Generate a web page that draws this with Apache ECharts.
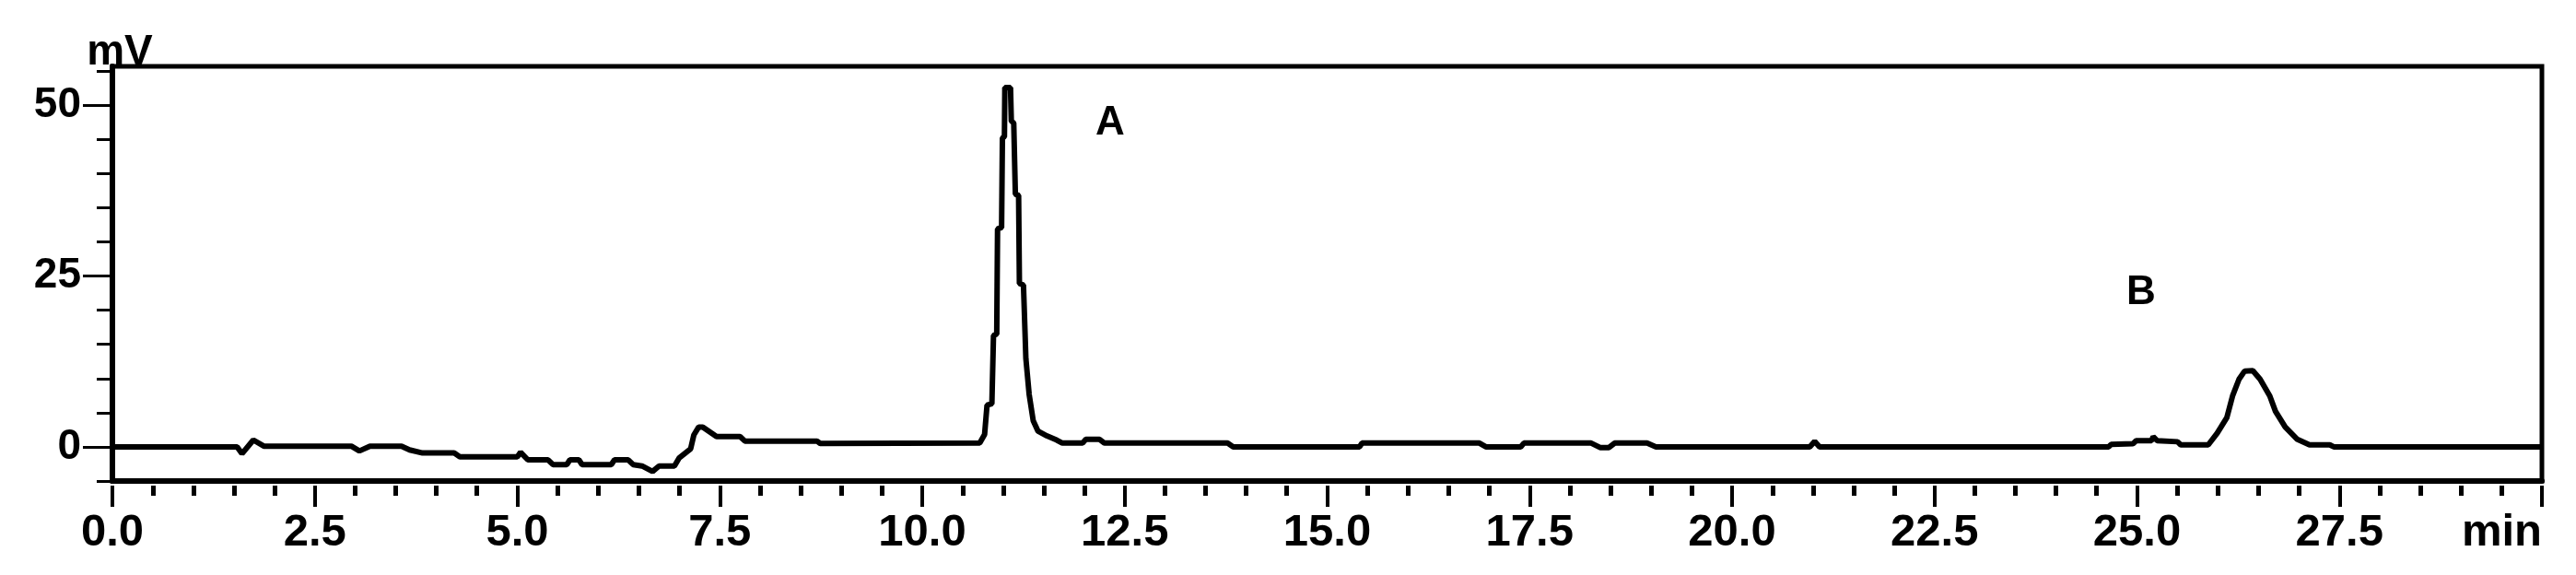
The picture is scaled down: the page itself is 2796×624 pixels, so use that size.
<!DOCTYPE html>
<html>
<head>
<meta charset="utf-8">
<script src="https://cdn.jsdelivr.net/npm/echarts@6/dist/echarts.min.js"></script>
<style>
  html, body { margin: 0; padding: 0; background: #fff; }
  #main { width: 2796px; height: 624px; }
</style>
</head>
<body>
<div id="main"></div>
<script>
// retention time (min) and detector signal (mV)
let time = [0, 1.54, 1.60, 1.74, 1.87, 2.95, 3.05, 3.18, 3.57, 3.67, 3.83, 4.22, 4.29, 5.00, 5.04, 5.13, 5.38, 5.44, 5.61, 5.65,
  5.76, 5.80, 6.16, 6.20, 6.37, 6.43, 6.54, 6.67, 6.75, 6.94, 7.00, 7.14, 7.18, 7.24, 7.29, 7.46, 7.75, 7.81, 8.70, 8.74,
  10.71, 10.77, 10.80, 10.86, 10.88, 10.92, 10.93, 10.98, 10.99, 11.015, 11.02, 11.09, 11.10, 11.13, 11.15, 11.19, 11.20, 11.25, 11.28, 11.32,
  11.37, 11.43, 11.54, 11.66, 11.73, 11.98, 12.02, 12.19, 12.25, 13.77, 13.84, 15.40, 15.43, 16.88, 16.96, 17.39, 17.43, 18.26, 18.37, 18.48,
  18.55, 18.95, 19.06, 20.96, 21.02, 21.08, 24.65, 24.68, 24.95, 24.99, 25.18, 25.20, 25.25, 25.50, 25.54, 25.88, 25.99, 26.11, 26.18, 26.26,
  26.33, 26.43, 26.52, 26.64, 26.71, 26.83, 26.98, 27.13, 27.38, 27.43, 30]
let signal = [0, 0, -1.0, 1.0, 0.1, 0.1, -0.6, 0.1, 0.1, -0.45, -0.9, -0.9, -1.45, -1.45, -0.8, -1.9, -1.9, -2.6, -2.6, -1.9,
  -1.9, -2.6, -2.6, -1.9, -1.9, -2.6, -2.8, -3.6, -2.8, -2.8, -1.6, -0.3, 1.75, 2.9, 2.9, 1.5, 1.5, 0.85, 0.85, 0.5,
  0.55, 1.8, 6.1, 6.3, 16.3, 16.5, 31.9, 32.1, 45.2, 45.4, 52.6, 52.6, 47.7, 47.4, 37.0, 36.8, 23.9, 23.7, 12.9, 7.7,
  3.85, 2.3, 1.6, 1.0, 0.55, 0.55, 1.1, 1.1, 0.55, 0.55, 0, 0, 0.55, 0.55, 0, 0, 0.55, 0.55, -0.1, -0.1,
  0.55, 0.55, 0, 0, 0.8, 0, 0, 0.35, 0.45, 0.9, 0.9, 1.5, 0.9, 0.75, 0.3, 0.3, 2.0, 4.3, 7.45, 9.9,
  11.1, 11.15, 9.9, 7.45, 5.2, 2.9, 1.1, 0.3, 0.3, 0, 0]

// peak names and where they are written
let peakNames = ["A", "B"]
let peakX = [12.32, 25.05]
let peakY = [47.4, 22.5]

// ticks
let xLabelTicks = [0, 2.5, 5, 7.5, 10, 12.5, 15, 17.5, 20, 22.5, 25, 27.5, 30]
let xMinorTicks = [0.5, 1, 1.5, 2, 3, 3.5, 4, 4.5, 5.5, 6, 6.5, 7, 8, 8.5, 9, 9.5, 10.5, 11, 11.5, 12, 13, 13.5, 14, 14.5,
  15.5, 16, 16.5, 17, 18, 18.5, 19, 19.5, 20.5, 21, 21.5, 22, 23, 23.5, 24, 24.5, 25.5, 26, 26.5, 27, 28, 28.5, 29, 29.5]
let yLabelTicks = [0, 25, 50]
let yMinorTicks = [-5, 5, 10, 15, 20, 30, 35, 40, 45, 55]

let font = "Liberation Sans, Arial, sans-serif"
let myChart = echarts.init(document.getElementById('main'))

let line = time.map((t, i) => [t, signal[i]])
let marks = peakNames.map((n, i) => ({ name: n, coord: [peakX[i], peakY[i]] }))

let xBase = { type: 'value', min: 0, max: 30, position: 'bottom', splitLine: { show: false } }
let yBase = { type: 'value', min: -5, max: 55.7, position: 'left', splitLine: { show: false } }

var option = {
  animation: false,
  backgroundColor: '#fff',
  grid: { left: 122, right: 37, top: 72, bottom: 102, show: true, borderColor: '#000', borderWidth: 5 },
  xAxis: [
    {
      ...xBase,
      axisLine: { show: true, onZero: false, lineStyle: { color: '#000', width: 6 } },
      axisTick: { show: false },
      axisLabel: {
        customValues: xLabelTicks,
        formatter: v => v === 30 ? 'min' : v.toFixed(1),
        alignMaxLabel: 'right',
        margin: 32, fontSize: 49, fontWeight: 'bold', fontFamily: font, color: '#000'
      }
    },
    {
      ...xBase, offset: 5,
      axisLine: { show: false, onZero: false },
      axisTick: { customValues: xLabelTicks, length: 23, lineStyle: { color: '#000', width: 4 } },
      axisLabel: { show: false }
    },
    {
      ...xBase, offset: 5,
      axisLine: { show: false, onZero: false },
      axisTick: { customValues: xMinorTicks, length: 11, lineStyle: { color: '#000', width: 5 } },
      axisLabel: { show: false }
    }
  ],
  yAxis: [
    {
      ...yBase,
      name: 'mV', nameLocation: 'end', nameGap: -8,
      nameTextStyle: { fontSize: 46, fontWeight: 'bold', fontFamily: font, color: '#000', align: 'center', verticalAlign: 'bottom', padding: [0, 0, 0, 16] },
      axisLine: { show: true, onZero: false, lineStyle: { color: '#000', width: 6 } },
      axisTick: { customValues: yLabelTicks, length: 32, lineStyle: { color: '#000', width: 3 } },
      axisLabel: { customValues: yLabelTicks, margin: 34, fontSize: 46, fontWeight: 'bold', fontFamily: font, color: '#000' }
    },
    {
      ...yBase,
      axisLine: { show: false, onZero: false },
      axisTick: { customValues: yMinorTicks, length: 17, lineStyle: { color: '#000', width: 3 } },
      axisLabel: { show: false }
    }
  ],
  series: [
    {
      type: 'line',
      data: line,
      showSymbol: false,
      symbol: 'none',
      lineStyle: { color: '#000', width: 6 },
      markPoint: {
        symbol: 'circle',
        symbolSize: 0,
        data: marks,
        itemStyle: { color: '#000' },
        label: {
          show: true, position: 'inside', formatter: '{b}',
          fontSize: 44, fontWeight: 'bold', fontFamily: font, color: '#000'
        }
      }
    }
  ]
}
myChart.setOption(option)
</script>
</body>
</html>
